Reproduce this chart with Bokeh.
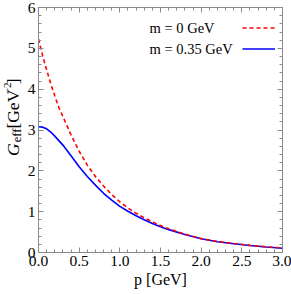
import math
from bokeh.plotting import figure
from bokeh.layouts import row
from bokeh.models import (SingleIntervalTicker, LinearAxis, Range1d, Label, Legend,
                          LegendItem, NumeralTickFormatter, CustomJSTickFormatter)
from bokeh.core.properties import value
from bokeh.embed import file_html
from bokeh.resources import INLINE

# ---- data ----
p_vals = [0.0, 0.05, 0.1, 0.15, 0.2, 0.25, 0.3, 0.4, 0.5, 0.6, 0.7, 0.8, 0.9,
          1.0, 1.1, 1.2, 1.3, 1.4, 1.5, 1.6, 1.8, 2.0, 2.2, 2.4, 2.6, 2.8, 3.0]
g_m0 = [5.23, 4.82, 4.47, 4.14, 3.84, 3.55, 3.33, 2.88, 2.48, 2.14, 1.86, 1.63, 1.42,
        1.24, 1.09, 0.96, 0.85, 0.75, 0.66, 0.58, 0.45, 0.34, 0.27, 0.22, 0.175, 0.14, 0.11]
g_m035 = [3.08, 3.07, 3.03, 2.95, 2.85, 2.74, 2.63, 2.37, 2.10, 1.86, 1.65, 1.45, 1.28,
          1.13, 1.01, 0.90, 0.80, 0.71, 0.63, 0.56, 0.44, 0.335, 0.265, 0.215, 0.17, 0.135, 0.105]
legend_labels = ["m = 0 GeV", "m = 0.35 GeV"]
x_label = "p [GeV]"
# y label pieces: text, centre (px from top), centre (px from left), size, style
ylab_text = ["G", "eff", "[GeV", "\u22122", "]"]
ylab_cy = [170.5, 153.5, 122, 97, 88.5]
ylab_cx = [12, 16.5, 12, 6.5, 12]
ylab_size = ["17.5px", "12.5px", "17.5px", "11px", "17.5px"]
ylab_style = ["italic", "normal", "normal", "normal", "normal"]

# ---- layout ----
TOTAL_W, TOTAL_H = 291, 294
LAB_W = 24
W, H = TOTAL_W - LAB_W, TOTAL_H
BL, BR, BT, BB = 12, 9, 7, 42
FONT = "Liberation Serif"
AX = "#8a8a8a"

XMIN, XMAX, YMIN, YMAX = 0.0, 3.0, 0.0, 6.0
frame_left = LAB_W + BL
frame_right = LAB_W + W - BR
frame_top = BT
frame_bottom = H - BB

def px_x(px):
    return XMIN + (px - frame_left) / (frame_right - frame_left) * (XMAX - XMIN)

def px_y(py):
    return YMAX - (py - frame_top) / (frame_bottom - frame_top) * (YMAX - YMIN)

p = figure(width=W, height=H, output_backend="svg", toolbar_location=None,
           x_range=Range1d(XMIN, XMAX), y_range=Range1d(YMIN, YMAX),
           x_axis_location=None, y_axis_location=None,
           min_border_left=BL, min_border_right=BR, min_border_top=BT, min_border_bottom=BB)
p.outline_line_color = None
p.grid.visible = False
p.background_fill_color = "white"
p.border_fill_color = "white"

def style_axis(ax, labels=True):
    ax.axis_line_color = AX
    ax.major_tick_line_color = AX
    ax.minor_tick_line_color = AX
    ax.major_tick_in = 5
    ax.major_tick_out = 0
    ax.minor_tick_in = 3
    ax.minor_tick_out = 0
    ax.major_label_text_font = FONT
    ax.major_label_text_font_size = "15.5px"
    ax.major_label_text_color = "black"
    ax.major_label_standoff = 3
    if not labels:
        ax.formatter = CustomJSTickFormatter(code="return ''")
        ax.major_label_text_font_size = "0px"
        ax.major_label_standoff = 0

for loc in ["below", "above"]:
    ax = LinearAxis(ticker=SingleIntervalTicker(interval=0.5, num_minor_ticks=5),
                    formatter=NumeralTickFormatter(format="0.0"))
    style_axis(ax, labels=(loc == "below"))
    if loc == "below":
        ax.axis_label = x_label
        ax.axis_label_text_font = FONT
        ax.axis_label_text_font_size = "16px"
        ax.axis_label_text_font_style = "normal"
        ax.axis_label_text_color = "black"
        ax.axis_label_standoff = 2
    p.add_layout(ax, loc)
for loc in ["left", "right"]:
    ax = LinearAxis(ticker=SingleIntervalTicker(interval=1, num_minor_ticks=5))
    style_axis(ax, labels=(loc == "left"))
    p.add_layout(ax, loc)

r_blue = p.line(p_vals, g_m035, line_color="#0000ff", line_width=1.6)
r_red = p.line(p_vals, g_m0, line_color="#ff0000", line_width=1.6, line_dash="4 3")

# legend: glyphs to the right of the texts
leg = Legend(items=[LegendItem(label=" ", renderers=[r_red]),
                    LegendItem(label=" ", renderers=[r_blue])],
             location=(240 - frame_left, frame_bottom - 58.5),
             glyph_width=33, glyph_height=21, label_width=0, label_height=0,
             label_standoff=0, spacing=0, padding=0, margin=0,
             label_text_font_size="1px",
             border_line_color=None, background_fill_alpha=0)
p.add_layout(leg, "center")

for txt, py in zip(legend_labels, [27, 48]):
    p.add_layout(Label(x=px_x(148), y=px_y(py), text=txt, text_font=FONT,
                       text_font_size="14.5px", text_baseline="middle",
                       text_align="left", text_color="black"))

# y axis label: a narrow strip figure at the left, coordinates in pixels (y up)
lab = figure(width=LAB_W, height=H, output_backend="svg", toolbar_location=None,
             x_range=Range1d(0, LAB_W), y_range=Range1d(0, H),
             x_axis_location=None, y_axis_location=None,
             min_border_left=0, min_border_right=0, min_border_top=0, min_border_bottom=0)
lab.outline_line_color = None
lab.grid.visible = False
lab.background_fill_color = "white"
lab.border_fill_color = "white"
for txt, cy, cx, fs, style in zip(ylab_text, ylab_cy, ylab_cx, ylab_size, ylab_style):
    lab.text(x=[cx], y=[H - cy], text=[txt], angle=math.pi / 2,
             text_font=value(FONT), text_font_size=fs, text_font_style=style,
             text_align="center", text_baseline="middle", text_color="black")

layout = row(lab, p, spacing=0)
open("out.html", "w").write(file_html(layout, INLINE))
